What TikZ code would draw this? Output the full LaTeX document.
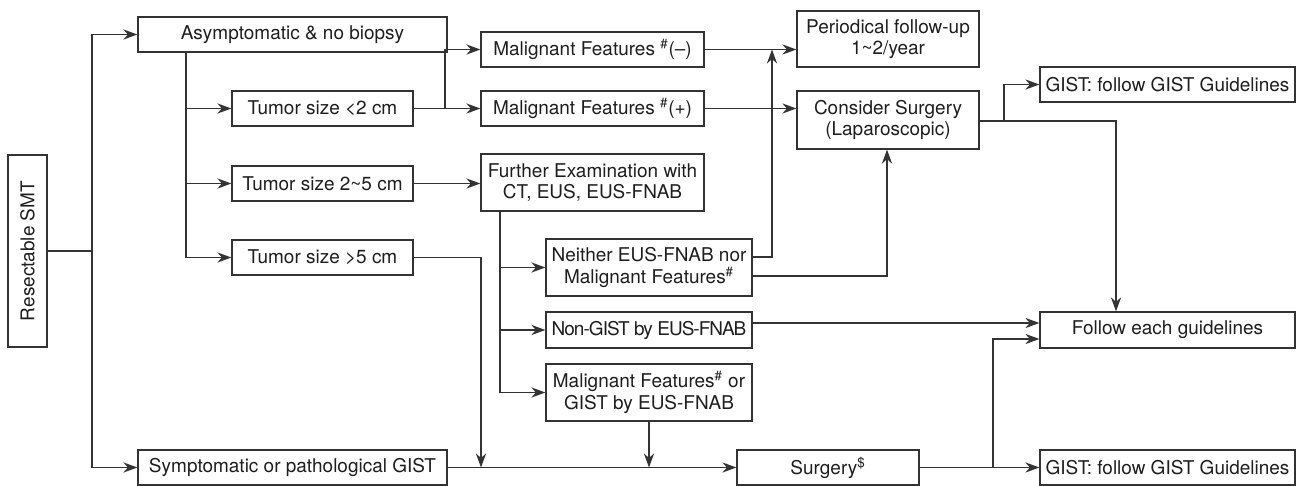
\documentclass[tikz,border=0pt]{standalone}
\usepackage{fontspec}
\setmainfont{TeX Gyre Heros}
\usepackage{xcolor}
\usetikzlibrary{
  arrows.meta,
  calc,
  positioning
}
\definecolor{flowLine}{HTML}{333333}
\definecolor{flowText}{HTML}{1E1E1E}

\begin{document}
\begin{tikzpicture}[
  x=0.02cm, y=-0.02cm,
  font=\fontsize{10.8pt}{12.3pt}\selectfont,
  box/.style={
    draw=flowLine,
    line width=0.7pt,
    fill=white,
    text=flowText,
    align=center,
    inner sep=0pt
  },
  dims/.style 2 args={minimum width=#1*0.02cm, minimum height=#2*0.02cm},
  arrow/.style={
    -{Stealth[length=8pt,width=5.8pt,inset=2.6pt]},
    line width=0.7pt,
    draw=flowLine
  }
]
\useasboundingbox (0,0) rectangle (1298,486);

% left column
\node[box, dims={192}{39}, rotate=90] (smt) at (27.5,251) {Resectable SMT};
\node[box, dims={309}{35}] (asym) at (292.5,34.5) {Asymptomatic \& no biopsy};
\node[box, dims={309}{35}] (symp) at (292.5,467.5) {Symptomatic or pathological GIST};

% tumor size
\node[box, dims={181}{35}] (t2)  at (322.5,108.5) {Tumor size <2 cm};
\node[box, dims={181}{35}] (t25) at (322.5,183.5) {Tumor size 2\textasciitilde5 cm};
\node[box, dims={181}{35}] (t5)  at (322.5,257.5) {Tumor size >5 cm};

% middle column
\node[box, dims={223}{35}] (mfneg)   at (592.5,49.5)  {Malignant Features \textsuperscript{\#}(--)};
\node[box, dims={223}{35}] (mfpos)   at (592.5,108.5) {Malignant Features \textsuperscript{\#}(+)};
\node[box, dims={223}{57}] (further) at (592.5,182.5) {Further Examination with\\CT, EUS, EUS-FNAB};
\node[box, dims={206}{57}] (neither) at (649,267.5) {Neither EUS-FNAB nor\\Malignant Features\textsuperscript{\#}};
\node[box, dims={206}{36}] (nongist) at (649,330) {\addfontfeature{LetterSpace=-5}Non-GIST by EUS-FNAB};
\node[box, dims={206}{57}] (mfgist)  at (649,392.5) {Malignant Features\textsuperscript{\#} or\\GIST by EUS-FNAB};

% right columns
\node[box, dims={182}{56}] (periodical) at (888,39)    {Periodical follow-up\\1\textasciitilde2/year};
\node[box, dims={182}{58}] (consider)   at (888,120)   {Consider Surgery\\(Laparoscopic)};
\node[box, dims={182}{35}] (surgery)    at (828,467.5) {Surgery\textsuperscript{\$}};
\node[box, dims={255}{35}] (gisttop)    at (1167.5,84.5)  {GIST: follow GIST Guidelines};
\node[box, dims={255}{36}] (follow)     at (1167.5,330)   {Follow each guidelines};
\node[box, dims={255}{35}] (gistbot)    at (1167.5,467.5) {GIST: follow GIST Guidelines};

% branch points
\coordinate (rootSplit) at (92,251);
\coordinate (trunkA) at (186,0);
\coordinate (trunkF) at (500,0);
\coordinate (smallSplit) at (445,108.5);
\coordinate (nUp) at (772,257);
\coordinate (nSurg) at (887,276);
\coordinate (ngLine) at (0,323);
\coordinate (bigJoin) at (481,467.5);
\coordinate (surgSplit) at (993,467.5);
\coordinate (cSplit) at (1004,121);
\coordinate (cDown) at (1116,121);

\draw[arrow] (smt.south) -- (rootSplit) |- (asym.west);
\draw[arrow] (rootSplit) |- (symp.west);

\draw[arrow] (asym.south -| trunkA) |- (t2.west);
\draw[arrow] (asym.south -| trunkA) |- (t25.west);
\draw[arrow] (asym.south -| trunkA) |- (t5.west);

\draw[arrow] (t2.east) -- (mfpos.west);
\draw[arrow] (smallSplit) |- (mfneg.west);
\draw[arrow] (t25.east) -- (t25.east -| further.west);

\draw[arrow] (mfneg.east) -- (mfneg.east -| periodical.west);
\draw[arrow] (mfpos.east) -- (mfpos.east -| consider.west);

\draw[arrow] (further.south -| trunkF) |- (neither.west);
\draw[arrow] (further.south -| trunkF) |- (nongist.west);
\draw[arrow] (further.south -| trunkF) |- (mfgist.west);

\draw[arrow] (neither.east |- nUp) -- (nUp) -- (nUp |- mfneg.east);
\draw[arrow] (neither.east |- nSurg) -| (consider.south -| nSurg);
\draw[arrow] (nongist.east |- ngLine) -- (follow.west |- ngLine);

\draw[arrow] (t5.east) -| (bigJoin);
\draw[arrow] (mfgist.south) -- (mfgist.south |- symp.east);
\draw[arrow] (symp.east) -- (surgery.west);

\draw[arrow] (surgery.east) -- (gistbot.west);
\draw[arrow] (surgSplit) |- ($(follow.west)+(0,9)$);

\draw[arrow] (consider.east |- cDown) -- (cDown) -- (cDown |- follow.north);
\draw[arrow] (cSplit) |- (gisttop.west);

\end{tikzpicture}
\end{document}
